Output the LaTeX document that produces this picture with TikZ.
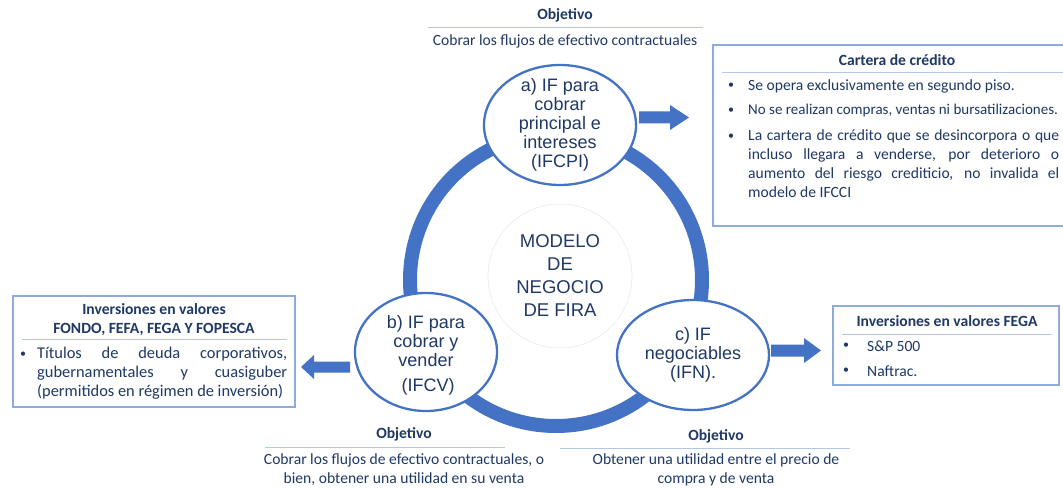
\documentclass[tikz,border=0pt]{standalone}
\usepackage{fontspec}
\setmainfont{Carlito}
\newfontfamily\circfont{Liberation Sans}
\usetikzlibrary{shapes.geometric}
\definecolor{ringblue}{HTML}{4472C4}
\definecolor{navy}{HTML}{1F3864}
\definecolor{boxline}{HTML}{8FAADC}
\definecolor{sepline}{HTML}{B4C7E7}
\tikzset{
  circ/.style={ellipse, draw=ringblue, line width=2.3pt, fill=white, inner sep=0pt},
  circtext/.style={font=\circfont\fontsize{18}{19}\selectfont, text=navy, align=center, inner sep=0pt},
  ctrtext/.style={font=\circfont\fontsize{18.5}{23}\selectfont, text=navy, align=center, inner sep=0pt},
  infobox/.style={draw=boxline, line width=1.3pt, fill=white},
  sep/.style={draw=sepline, line width=1pt},
  ttl/.style={font=\fontsize{15.6}{19}\selectfont\bfseries, text=navy, inner sep=0pt, align=center},
  body/.style={font=\fontsize{15.6}{19}\selectfont, text=navy, inner sep=0pt},
  bodyl/.style={font=\fontsize{16.4}{19}\selectfont, text=navy, inner sep=0pt},
  bul/.style={font=\fontsize{12}{19}\selectfont, text=navy, inner sep=0pt},
  blockarrow/.style={fill=ringblue},
}
\begin{document}
\begin{tikzpicture}[x=1pt,y=-1pt]
\useasboundingbox (0,0) rectangle (1063,489);
\begin{scope}
\clip (0,0) rectangle (1063,489);
% ring
\draw[ringblue, line width=14pt] (556,280) circle[radius=146];
% faint inner circle
\draw[black!7, line width=0.8pt] (560,276) circle[radius=72];
\node[ctrtext] (center) at (560,276) {MODELO\\DE\\NEGOCIO\\DE FIRA};
% ellipses
\node[circ, minimum width=152pt, minimum height=120pt] (a) at (560,125) {};
\node[circtext] (at) at (a.center) {a) IF para\\cobrar\\principal e\\intereses\\(IFCPI)};
\node[circ, minimum width=142pt, minimum height=118pt] (b) at (426,352) {};
\node[circtext] (bt1) at (426,341) {b) IF para\\cobrar y\\vender};
\node[circtext] (bt2) at (428,387) {(IFCV)};
\node[circ, minimum width=152pt, minimum height=110pt] (c) at (693,355) {};
\node[circtext] (ct) at (c.center) {c) IF\\negociables\\(IFN).};
% block arrows
\fill[blockarrow] (639,111.5) -- (670,111.5) -- (670,105) -- (689,117.5) -- (670,130) -- (670,123.5) -- (639,123.5) -- cycle;
\fill[blockarrow] (350,361.5) -- (314,361.5) -- (314,355) -- (301,367) -- (314,379) -- (314,372.5) -- (350,372.5) -- cycle;
\fill[blockarrow] (771,344.5) -- (804,344.5) -- (804,338) -- (821,350.5) -- (804,363) -- (804,356.5) -- (771,356.5) -- cycle;
% top objective
\node[ttl] (o1) at (565,15) {Objetivo};
\draw[sep] (428,28) -- (703,28);
\node[body] (o1t) at (565,41) {Cobrar los flujos de efectivo contractuales};
% bottom-left objective
\node[ttl] (o2) at (404,434) {Objetivo};
\draw[sep] (265,447) -- (505,447);
\node[body, align=center] (o2t) at (404,469.5) {Cobrar los flujos de efectivo contractuales, o\\bien, obtener una utilidad en su venta};
% bottom-right objective
\node[ttl] (o3) at (716,436) {Objetivo};
\draw[sep] (560,448) -- (850,448);
\node[body, align=center] (o3t) at (716,470) {Obtener una utilidad entre el precio de\\compra y de venta};
% Cartera box
\draw[infobox] (713,45) rectangle (1080,226);
\node[ttl] (cct) at (897,60) {Cartera de crédito};
\draw[sep] (722,73) -- (1070,73);
\node[bul] (cb1) at (731,86) {\textbullet};
\node[body, anchor=west] (cl1) at (748,86) {Se opera exclusivamente en segundo piso.};
\node[bul] (cb2) at (731,111) {\textbullet};
\node[body, anchor=west, font=\fontsize{15}{19}\selectfont] (cl2) at (748,111) {No se realizan compras, ventas ni bursatilizaciones.};
\node[bul] (cb3) at (731,137) {\textbullet};
\node[body, anchor=north west, align=left] (cl3) at (748,129) {%
\makebox[311pt][s]{La cartera de crédito que se desincorpora o que}\\
\makebox[311pt][s]{incluso llegara a venderse, por deterioro o}\\
\makebox[311pt][s]{aumento del riesgo crediticio, no invalida el}\\
modelo de IFCCI};
% Left box
\draw[infobox] (13,296) rectangle (295,407);
\node[ttl, align=center] (lbt) at (154,319.5) {Inversiones en valores\\FONDO, FEFA, FEGA Y FOPESCA};
\draw[sep] (22,339) -- (287,339);
\node[bul] (lb1) at (23,355) {\textbullet};
\node[bodyl, anchor=north west, align=left] (lbtext) at (37,346.5) {%
\makebox[250pt][s]{Títulos de deuda corporativos,}\\
\makebox[250pt][s]{gubernamentales y cuasiguber}\\
(permitidos en régimen de inversión)};
% FEGA box
\draw[infobox] (833,306) rectangle (1059,385);
\node[ttl] (fgt) at (947,321) {Inversiones en valores FEGA};
\draw[sep] (842,334) -- (1052,334);
\node[bul] (fb1) at (846,346) {\textbullet};
\node[body, anchor=west] (fl1) at (867,346) {S\&P 500};
\node[bul] (fb2) at (846,371) {\textbullet};
\node[body, anchor=west] (fl2) at (867,371) {Naftrac.};
\end{scope}
\end{tikzpicture}
\end{document}
